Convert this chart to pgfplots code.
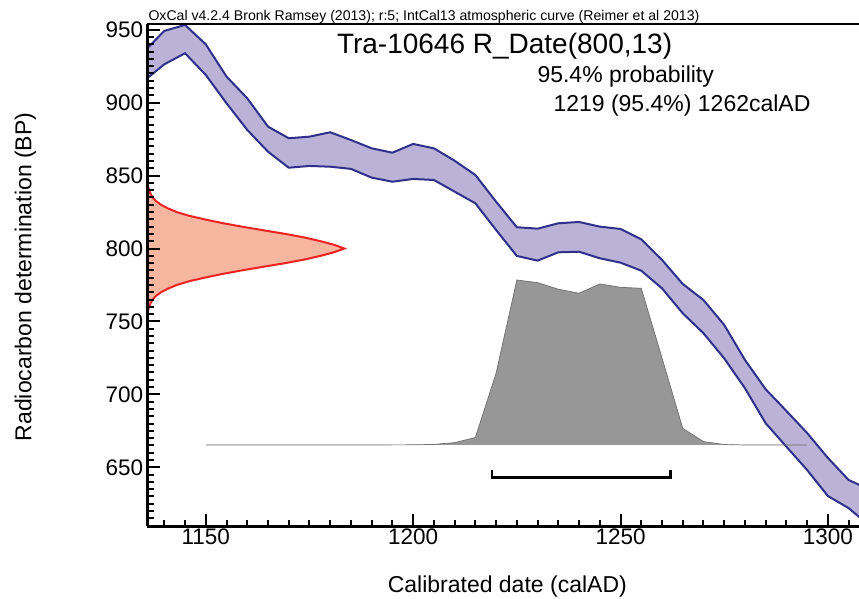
\documentclass[border=0pt]{standalone}
\usepackage{fontspec}
\setmainfont{Liberation Sans}
\usepackage{pgfplots}
\pgfplotsset{compat=1.18}
\usepgfplotslibrary{fillbetween}
\definecolor{bandfill}{RGB}{186,178,215}
\definecolor{bandline}{RGB}{48,48,140}
\definecolor{probline}{RGB}{235,35,35}
\definecolor{probfill}{RGB}{247,182,160}
\definecolor{postfill}{RGB}{150,151,150}
\definecolor{postline}{RGB}{110,110,110}

\begin{document}
\begin{tikzpicture}
\begin{axis}[
  at={(0pt,0pt)}, anchor=south west,
  scale only axis, width=711.7pt, height=502pt,
  xmin=1135.9, xmax=1307.5, ymin=609.4, ymax=953.6,
  axis x line*=bottom, axis y line*=left,
  axis line style={line width=2.6pt, black},
  axis on top,
  tick align=inside,
  xtick={1150,1200,1250,1300}, ytick={650,700,...,950},
  minor xtick={1140,1145,...,1305}, minor ytick={615,620,...,950},
  major tick length=12.7pt, minor tick length=6.5pt,
  xtick style={black, line width=2pt},
  ytick style={black, line width=2pt},
  minor tick style={line width=1.2pt},
  tick label style={font=\fontsize{22.5}{25}\selectfont},
  xticklabel style={inner sep=2pt},
  yticklabel style={inner sep=4pt},
  /pgf/number format/assume math mode=true,
  /pgf/number format/1000 sep={},
  scaled ticks=false,
]
% IntCal13 band
\addplot[name path=up, bandline, line width=2pt] coordinates {
(1135,934.7) (1140,949.2) (1145,953.3) (1150,940) (1155,917.9) (1160,903)
(1165,883.6) (1170,875.6) (1175,876.7) (1180,879.7) (1185,874.4) (1190,868.7)
(1195,865.7) (1200,871.7) (1205,868.7) (1210,860.2) (1215,850.4) (1220,832.1)
(1225,814.6) (1230,813.6) (1235,817.3) (1240,818.2) (1245,815) (1250,813.4)
(1255,806.3) (1260,792.2) (1265,775.7) (1270,764.7) (1275,747.6) (1280,723.6)
(1285,703.5) (1290,688.6) (1295,673.5) (1300,656.4) (1305,641.3) (1310,634.7)};
\addplot[name path=lo, bandline, line width=2pt] coordinates {
(1135,914.7) (1140,926.3) (1145,933.9) (1150,919) (1155,899.6) (1160,881.3)
(1165,866.4) (1170,855.4) (1175,856.6) (1180,856.1) (1185,854.6) (1190,848.6)
(1195,845.8) (1200,847.7) (1205,847) (1210,839) (1215,831) (1220,812.7)
(1225,794.9) (1230,791.7) (1235,797.4) (1240,797.8) (1245,793.3) (1250,790.3)
(1255,784.8) (1260,772.7) (1265,755.6) (1270,741.9) (1275,724.7) (1280,704.2)
(1285,680.2) (1290,664.1) (1295,648.1) (1300,630.3) (1305,622) (1310,610)};
\addplot[bandfill] fill between[of=up and lo];
% calibrated distribution
\addplot[fill=postfill, draw=postline, line width=0.7pt] coordinates {
(1150,665.3) (1160,665.3) (1170,665.3) (1180,665.3) (1190,665.3) (1200,665.4)
(1205,665.7) (1210,666.9) (1215,670.4) (1220,714.5) (1225,778.4) (1230,776.6)
(1235,772.1) (1240,769.3) (1245,775.7) (1250,773.4) (1255,772.7) (1260,725)
(1265,676.7) (1270,667.6) (1275,665.6) (1280,665.3) (1295,665.3)};
% radiocarbon date
\addplot[fill=probfill, draw=probline, line width=2pt] coordinates {
(1135.9,752) (1135.9,755) (1136.1,757.5) (1136.3,760) (1136.7,762.5) (1137.2,765)
(1138.0,767.5) (1139.2,770) (1140.9,772.5) (1143.0,775) (1145.9,777.5)
(1149.7,780) (1153.9,782.5) (1158.7,785) (1163.9,787.5) (1169.2,790)
(1173.9,792.5) (1177.7,795) (1181.0,797.5) (1183.4,800) (1181.0,802.5)
(1177.7,805) (1173.9,807.5) (1169.2,810) (1163.9,812.5) (1158.7,815)
(1153.9,817.5) (1149.7,820) (1145.9,822.5) (1143.0,825) (1140.9,827.5)
(1139.2,830) (1138.0,832.5) (1137.2,835) (1136.7,837.5) (1136.3,840)
(1136.1,842.5) (1135.9,845) (1135.9,849)};
% 95.4% range
\addplot[black, line width=2.5pt] coordinates {
(1219,648.2) (1219,642.9) (1262,642.9) (1262,648.2)};
\end{axis}
\draw[line width=2pt] (0pt,502pt) -- (711.7pt,502pt);
\node[anchor=base west, inner sep=0pt, font=\fontsize{14.1}{16}\selectfont] at (1pt,506pt)
  {OxCal v4.2.4 Bronk Ramsey (2013); r:5; IntCal13 atmospheric curve (Reimer et al 2013)};
\node[anchor=base west, inner sep=0pt, font=\fontsize{28}{32}\selectfont] at (189.5pt,472.5pt)
  {Tra-10646 R\_Date(800,13)};
\node[anchor=base west, inner sep=0pt, font=\fontsize{23}{26}\selectfont] at (390pt,443.5pt)
  {95.4\% probability};
\node[anchor=base west, inner sep=0pt, font=\fontsize{23}{26}\selectfont] at (406pt,414.5pt)
  {1219 (95.4\%) 1262calAD};
\node[anchor=base, inner sep=0pt, font=\fontsize{23}{26}\selectfont] at (360pt,-66.5pt)
  {Calibrated date (calAD)};
\node[anchor=base, rotate=90, inner sep=0pt, font=\fontsize{23}{26}\selectfont] at (-116pt,249.5pt)
  {Radiocarbon determination (BP)};
\pgfresetboundingbox
\path (-147.3pt,-72.5pt) rectangle (711.7pt,526.5pt);
\end{tikzpicture}
\end{document}
